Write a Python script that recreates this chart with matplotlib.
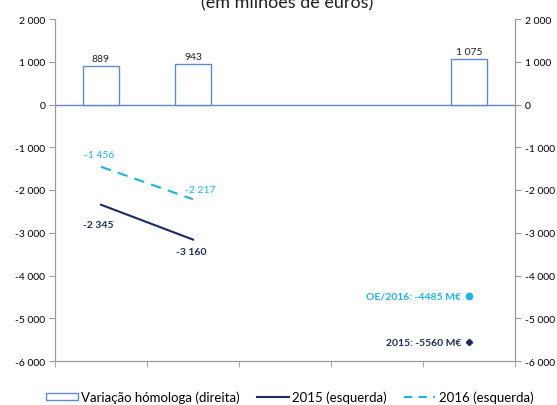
import matplotlib.pyplot as plt
from matplotlib.lines import Line2D
from matplotlib.patches import Rectangle
from matplotlib.ticker import FuncFormatter, FixedLocator

plt.rcParams['font.family'] = ['Lato', 'DejaVu Sans']

categories = ['mar', 'abr', 'mai', '(...)', 'Objetivo']
variacao = [889, 943, None, None, 1075]          # right axis (bars)
saldo_2015 = [-2345, -3160]                       # left axis, mar..abr
saldo_2016 = [-1456, -2217]
objetivo_2016 = -4485
objetivo_2015 = -5560

navy = '#1B2A66'
light = '#1CB2EC'
bar_edge = '#5B8BD6'
axis_grey = '#9A9A9A'


def fmt(v, pos=None):
    s = f"{abs(int(round(v))):,}".replace(',', ' ')
    return ('-' if v < 0 else '') + s


fig = plt.figure(figsize=(5.57, 4.06), dpi=100)
ax = fig.add_axes([55 / 557, 1 - 362 / 406, 460 / 557, 342 / 406])
ax2 = ax.twinx()

x = list(range(len(categories)))
for a in (ax, ax2):
    a.set_ylim(-6000, 2000)
    a.set_xlim(-0.5, len(categories) - 0.5)
    a.yaxis.set_major_locator(FixedLocator(range(-6000, 2001, 1000)))
    a.yaxis.set_major_formatter(FuncFormatter(fmt))
    a.tick_params(axis='y', labelsize=7.5, length=4, color=axis_grey, pad=3)
    for s in a.spines.values():
        s.set_color(axis_grey)
    a.spines['top'].set_visible(False)

# bars on the right axis
bx = [i for i, v in enumerate(variacao) if v is not None]
bv = [v for v in variacao if v is not None]
ax2.bar(bx, bv, width=0.39, facecolor='white', edgecolor=bar_edge, linewidth=1.0, zorder=3)
for xi, v in zip(bx, bv):
    ax2.annotate(fmt(v), (xi, v), xytext=(0, 3), textcoords='offset pixels',
                 ha='center', va='bottom', fontsize=7.5, color='#222222')
ax2.axhline(0, color=bar_edge, linewidth=1.0, zorder=2)

# lines on the left axis
ax.plot(x[:2], saldo_2015, color=navy, linewidth=1.5, zorder=4)
ax.plot(x[:2], saldo_2016, color=light, linewidth=1.5, dashes=(5, 3.5), zorder=4)


def label(xv, yv, dx, dy, color, bold=False, ha='center'):
    ax.annotate(fmt(yv), (xv, yv), xytext=(dx, dy), textcoords='offset pixels', ha=ha, va='center',
                fontsize=7.5, color=color, fontweight='bold' if bold else 'normal')


label(0, saldo_2016[0], -2, 12, light)
label(1, saldo_2016[1], -8, 10, light, ha='left')
label(0, saldo_2015[0], -3, -20, navy, bold=True)
label(1, saldo_2015[1], -2, -12, navy, bold=True)

# targets
ax.plot([4], [objetivo_2016], 'o', color=light, markersize=4.5, zorder=5)
ax.plot([4], [objetivo_2015], 'D', color=navy, markersize=3.2, zorder=5)
ax.annotate(f"OE/2016: {objetivo_2016} M€", (4, objetivo_2016), xytext=(-8, 0), textcoords='offset pixels',
            ha='right', va='center', fontsize=7.5, color=light, fontweight='bold')
ax.annotate(f"2015: {objetivo_2015} M€", (4, objetivo_2015), xytext=(-8, 0), textcoords='offset pixels',
            ha='right', va='center', fontsize=7.5, color=navy, fontweight='bold')

# category axis
ax.set_xticks(x)
ax.set_xticklabels(categories)
ax.tick_params(axis='x', length=0, labelsize=7.5, pad=13)
ax.set_xticks([i - 0.5 for i in range(len(categories) + 1)], minor=True)
ax.tick_params(axis='x', which='minor', length=4, color=axis_grey)
ax2.set_xticks([])

fig.text(0.515, 1 - 8 / 406, '(em milhões de euros)', ha='center', va='baseline', fontsize=13, color='#222222')

handles = [
    Rectangle((0, 0), 1, 1, facecolor='white', edgecolor=bar_edge, linewidth=1.0),
    Line2D([], [], color=navy, linewidth=1.5),
    Line2D([], [], color=light, linewidth=1.5, dashes=(4, 3)),
]
labels = ['Variação hómologa (direita)', '2015 (esquerda)', '2016 (esquerda)']
fig.legend(handles, labels, loc='center', bbox_to_anchor=(0.52, 1 - 398 / 406), ncol=3, frameon=False,
           fontsize=9.5, handlelength=2.4, handleheight=0.4, handletextpad=0.25, columnspacing=1.3,
           borderpad=0.2)

fig.savefig('out.png', dpi=100)
